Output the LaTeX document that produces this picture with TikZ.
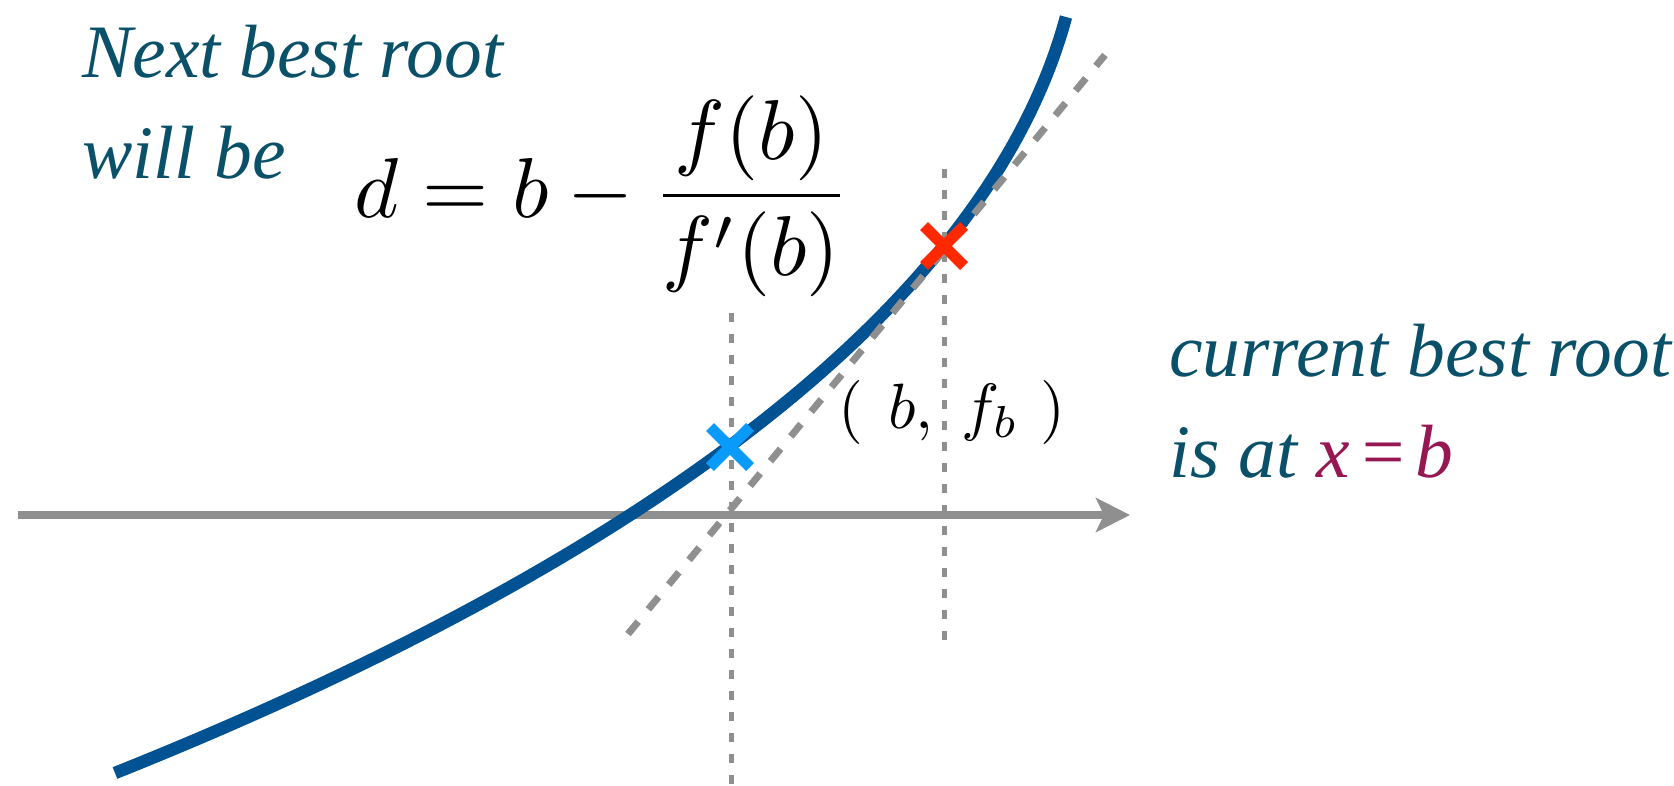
\documentclass[tikz,border=0pt]{standalone}
\usepackage[no-math]{fontspec}
\setmainfont{Liberation Serif}[ItalicFont={Liberation Serif Italic}]
\usetikzlibrary{arrows.meta}
\definecolor{curveblue}{RGB}{0,82,147}
\definecolor{axisgray}{RGB}{143,143,143}
\definecolor{txtteal}{RGB}{10,80,104}
\definecolor{rootmag}{RGB}{150,24,82}
\definecolor{crossblue}{RGB}{10,155,250}
\definecolor{crossred}{RGB}{255,40,0}
\tikzset{
  axisline/.style={draw=axisgray,line width=7.7pt,-{Stealth[length=34pt,width=34pt,inset=8pt]}},
  curveline/.style={draw=curveblue,line width=12.5pt},
  tangentline/.style={draw=axisgray,line width=7pt,dash pattern=on 16pt off 16pt},
  vguide/.style={draw=axisgray,line width=5pt,dash pattern=on 8.5pt off 12.5pt},
  crossmark/.style={line width=11pt},
  tealtext/.style={text=txtteal,inner sep=0pt,align=left,font=\fontsize{75.5}{101}\selectfont\itshape},
  mathtext/.style={inner sep=0pt,transform shape,font=\fontsize{10}{12}\selectfont}
}
\begin{document}
\begin{tikzpicture}[x=1pt,y=-1pt]
\useasboundingbox (0,0) rectangle (1674,785);
% axis
\coordinate (axL) at (18,515);
\coordinate (axR) at (1130,515);
\draw[axisline] (axL) -- (axR);
% curve
\coordinate (cS) at (115,773);
\coordinate (cE) at (1066,17);
\draw[curveline] (cS) .. controls (615,573) and (985,317) .. (cE);
% tangent
\coordinate (tA) at (628,634);
\coordinate (tB) at (1105,55);
\draw[tangentline] (tA) -- (tB);
% vertical guides
\coordinate (v1t) at (731,313);
\coordinate (v1b) at (731,785);
\coordinate (v2t) at (944,169);
\coordinate (v2b) at (944,643);
\draw[vguide] (v1t) -- (v1b);
\draw[vguide] (v2t) -- (v2b);
% crosses
\coordinate (pd) at (730,447);
\coordinate (pb) at (944,246);
\draw[crossmark,draw=crossblue] ([shift={(-20,-20)}]pd) -- ([shift={(20,20)}]pd);
\draw[crossmark,draw=crossblue] ([shift={(-20,20)}]pd) -- ([shift={(20,-20)}]pd);
\draw[crossmark,draw=crossred] ([shift={(-20,-20)}]pb) -- ([shift={(20,20)}]pb);
\draw[crossmark,draw=crossred] ([shift={(-20,20)}]pb) -- ([shift={(20,-20)}]pb);
% texts
\node[tealtext,anchor=base west] (next) at (82,178.5) {Next best root\\will be};
\node[mathtext,scale=8.5,anchor=base west] (formula) at (353,217) {$\displaystyle d = b - \frac{f(b)}{f'(b)}$};
\node[mathtext,scale=6.4,anchor=base west] (pt) at (837,428) {$(\mkern7mu b,\mkern5mu f_b\mkern6mu)$};
\node[tealtext,anchor=base west] (cur) at (1169,477) {current best root\\is at \textcolor{rootmag}{x\hspace{0.1em}=\hspace{0.1em}b}};
\end{tikzpicture}
\end{document}
